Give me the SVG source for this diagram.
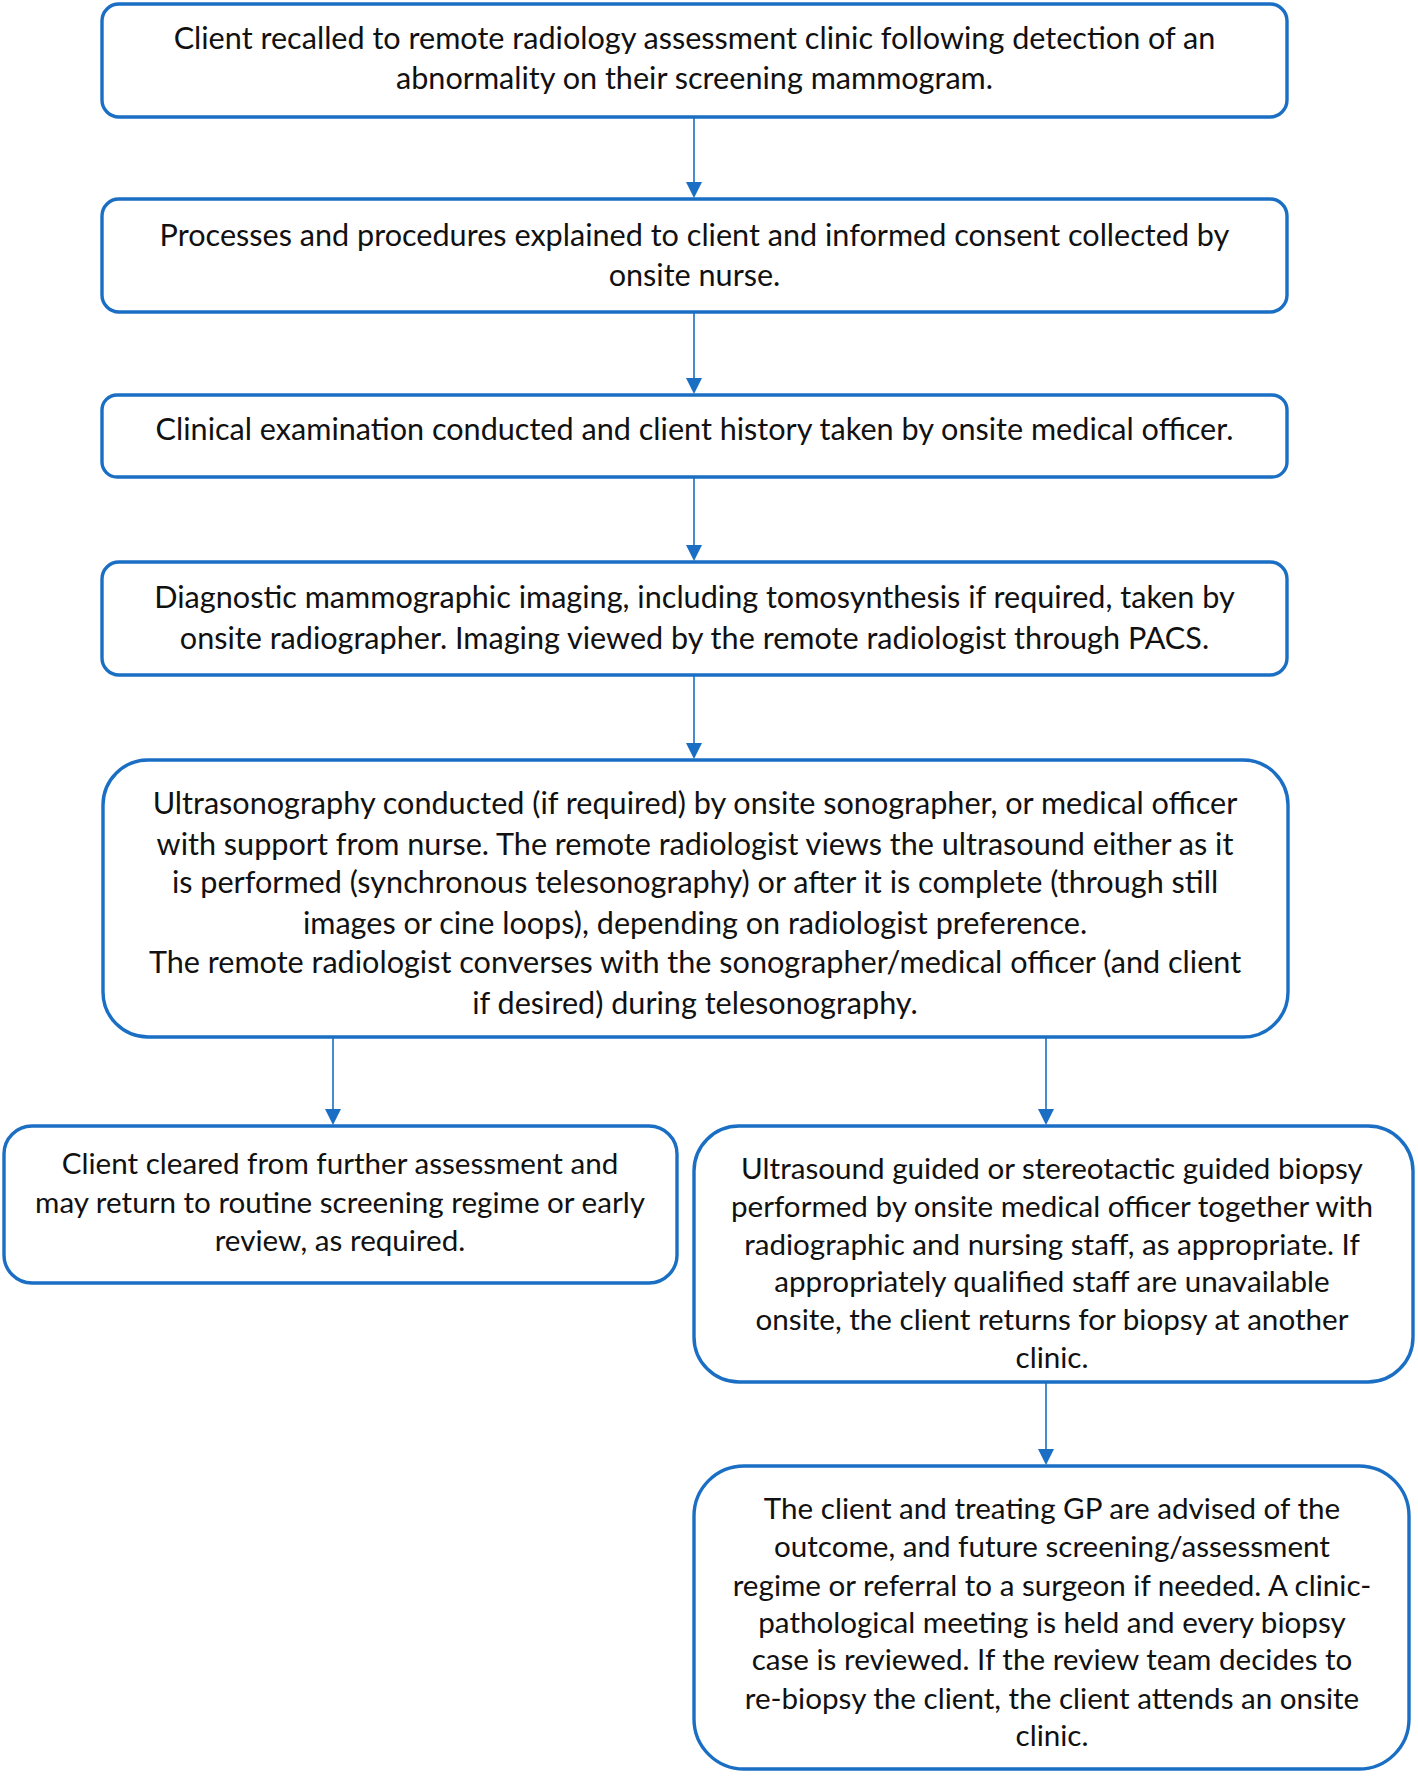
<svg xmlns="http://www.w3.org/2000/svg" width="1418" height="1776" viewBox="0 0 1418 1776">
<defs>
<style>
.box{fill:#ffffff;stroke:#1a6fc4;stroke-width:3.4}
.t{font-family:Lato,"Liberation Sans",sans-serif;font-size:30.6px;fill:#111111;text-anchor:middle}
.s{font-size:29.6px}
.c{stroke:#1a6fc4;stroke-width:1.6;fill:none}
.h{fill:#1a6fc4}
</style>
</defs>
<rect width="1418" height="1776" fill="#ffffff"/>
<g id="connectors">
<line class="c" x1="694" y1="117" x2="694" y2="184"/>
<line class="c" x1="694" y1="312" x2="694" y2="380"/>
<line class="c" x1="694" y1="477" x2="694" y2="547"/>
<line class="c" x1="694" y1="675" x2="694" y2="745"/>
<line class="c" x1="333" y1="1037" x2="333" y2="1111"/>
<line class="c" x1="1046" y1="1037" x2="1046" y2="1111"/>
<line class="c" x1="1046" y1="1382" x2="1046" y2="1451"/>
<path class="h" d="M686,182 L702,182 L694,198 z"/>
<path class="h" d="M686,378 L702,378 L694,394 z"/>
<path class="h" d="M686,545 L702,545 L694,561 z"/>
<path class="h" d="M686,743 L702,743 L694,759 z"/>
<path class="h" d="M325,1109 L341,1109 L333,1125 z"/>
<path class="h" d="M1038,1109 L1054,1109 L1046,1125 z"/>
<path class="h" d="M1038,1449 L1054,1449 L1046,1465 z"/>
</g>
<g id="n1">
<rect class="box" x="102" y="4" width="1185" height="113" rx="17"/>
<text class="t" x="694.5" y="48.5">Client recalled to remote radiology assessment clinic following detection of an</text>
<text class="t" x="694.5" y="89.3">abnormality on their screening mammogram.</text>
</g>
<g id="n2">
<rect class="box" x="102" y="199" width="1185" height="113" rx="17"/>
<text class="t" x="694.5" y="245.6">Processes and procedures explained to client and informed consent collected by</text>
<text class="t" x="694.5" y="286.4">onsite nurse.</text>
</g>
<g id="n3">
<rect class="box" x="102" y="395" width="1185" height="82" rx="15"/>
<text class="t" x="694.5" y="440.4">Clinical examination conducted and client history taken by onsite medical officer.</text>
</g>
<g id="n4">
<rect class="box" x="102" y="562" width="1185" height="113" rx="17"/>
<text class="t" x="694.5" y="608">Diagnostic mammographic imaging, including tomosynthesis if required, taken by</text>
<text class="t" x="694.5" y="648.8">onsite radiographer. Imaging viewed by the remote radiologist through PACS.</text>
</g>
<g id="n5">
<rect class="box" x="103" y="760" width="1185" height="277" rx="45"/>
<text class="t" x="695" y="814">Ultrasonography conducted (if required) by onsite sonographer, or medical officer</text>
<text class="t" x="695" y="855">with support from nurse. The remote radiologist views the ultrasound either as it</text>
<text class="t" x="695" y="893.4">is performed (synchronous telesonography) or after it is complete (through still</text>
<text class="t" x="695" y="934">images or cine loops), depending on radiologist preference.</text>
<text class="t" x="695" y="972.7">The remote radiologist converses with the sonographer/medical officer (and client</text>
<text class="t" x="695" y="1013.5">if desired) during telesonography.</text>
</g>
<g id="n6">
<rect class="box" x="4" y="1126" width="673" height="157" rx="28"/>
<text class="t s" x="340" y="1174.3">Client cleared from further assessment and</text>
<text class="t s" x="340" y="1212.8">may return to routine screening regime or early</text>
<text class="t s" x="340" y="1251.3">review, as required.</text>
</g>
<g id="n7">
<rect class="box" x="694" y="1126" width="719" height="256" rx="45"/>
<text class="t s" x="1052" y="1178.8">Ultrasound guided or stereotactic guided biopsy</text>
<text class="t s" x="1052" y="1217.4">performed by onsite medical officer together with</text>
<text class="t s" x="1052" y="1254.7">radiographic and nursing staff, as appropriate. If</text>
<text class="t s" x="1052" y="1292.1">appropriately qualified staff are unavailable</text>
<text class="t s" x="1052" y="1329.5">onsite, the client returns for biopsy at another</text>
<text class="t s" x="1052" y="1368">clinic.</text>
</g>
<g id="n8">
<rect class="box" x="694" y="1466" width="715" height="303" rx="50"/>
<text class="t s" x="1052" y="1518.6">The client and treating GP are advised of the</text>
<text class="t s" x="1052" y="1557.1">outcome, and future screening/assessment</text>
<text class="t s" x="1052" y="1595.6">regime or referral to a surgeon if needed. A clinic-</text>
<text class="t s" x="1052" y="1633">pathological meeting is held and every biopsy</text>
<text class="t s" x="1052" y="1670.4">case is reviewed. If the review team decides to</text>
<text class="t s" x="1052" y="1708.9">re-biopsy the client, the client attends an onsite</text>
<text class="t s" x="1052" y="1746.3">clinic.</text>
</g>
</svg>
